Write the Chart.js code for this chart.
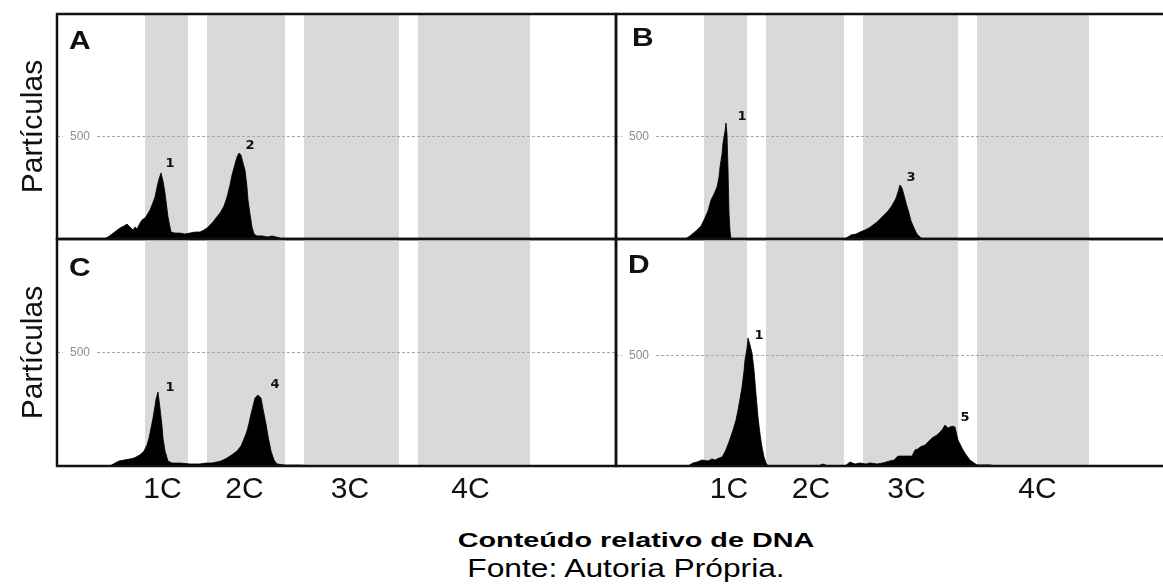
<!DOCTYPE html>
<html><head><meta charset="utf-8">
<script src="https://cdn.jsdelivr.net/npm/chart.js@4/dist/chart.umd.min.js"></script>
<style>
html,body{margin:0;padding:0;background:#fff;}
#wrap{position:relative;width:1163px;height:585px;overflow:hidden;background:#fff;font-family:"Liberation Sans",Arial,sans-serif;}
canvas{position:absolute;}
.cap{position:absolute;white-space:nowrap;line-height:1;color:#000;transform-origin:50% 50%;}
</style></head><body>
<div id="wrap">
<canvas id="cA" width="620" height="245" style="left:0;top:0;width:620px;height:245px"></canvas>
<canvas id="cB" width="553" height="245" style="left:610px;top:0;width:553px;height:245px"></canvas>
<canvas id="cC" width="620" height="285" style="left:0;top:235px;width:620px;height:285px"></canvas>
<canvas id="cD" width="553" height="285" style="left:610px;top:235px;width:553px;height:285px"></canvas>
<div class="cap" id="xt" style="left:636px;top:529px;font-size:21px;font-weight:bold;transform:translateX(-50%) scaleX(1.37);">Conteúdo relativo de DNA</div>
<div class="cap" id="src" style="left:626px;top:555px;font-size:26px;transform:translateX(-50%) scaleX(1.22);">Fonte: Autoria Própria.</div>
</div>
<script>
// ---- data (x = relative DNA content channel, y = particle count) ----
const bands = [[88,131],[150,228],[247,342],[361,473]];
const gridValues = [500];
const tickLabels = ['1C','2C','3C','4C'];
const tickPosLeft = [105.5,187.5,293,413.5];
const tickPosRight = [113,195,290.5,421.5];

const channelsA = [47,51,55,59,63,67,70,73,76,78,80,83,85,88,90,93,95,98,100,102,104,106,108,110,111,113,114,118,123,128,133,138,143,147,150,153,156,159,163,167,170,173,175,178,180,182,184,186,188,190,191,193,195,197,200,205,211,215,219,223,224];
const countsA   = [0,10,24,39,54,64,73,59,44,59,49,78,93,103,117,142,166,205,254,293,323,284,225,147,108,59,34,29,29,24,29,34,34,44,54,68,83,103,127,161,205,264,313,367,401,420,411,372,337,254,191,122,59,24,15,15,10,15,10,5,0];

const channelsB = [69,74,81,85,88,92,95,98,101,103,104,106,107,109,110,111,112,113,114,115,228,232,235,240,244,249,253,257,261,265,268,272,275,278,280,282,284,286,288,290,293,295,298,301,305,307];
const countsB   = [0,15,44,64,93,137,191,220,254,303,352,416,469,528,567,513,342,127,39,0,0,10,20,24,34,44,54,68,83,103,117,137,156,181,200,230,264,249,215,176,127,88,54,24,5,0];

const channelsC = [53,58,62,67,73,77,81,84,87,90,92,94,96,98,99,101,103,105,106,108,111,115,123,133,143,149,155,160,164,170,176,180,184,187,190,192,194,196,198,201,204,206,209,211,214,217,220,228,243,259];
const countsC   = [0,13,22,26,31,35,44,53,66,93,123,167,211,264,295,326,255,176,123,66,22,13,13,9,9,13,13,18,22,35,53,66,88,119,154,189,229,264,300,313,300,251,185,132,66,26,9,4,4,0];

const channelsD = [72,77,81,86,92,96,99,103,106,109,111,114,117,120,122,124,126,128,129,131,132,134,136,138,140,142,144,146,148,150,152,202,207,212,229,234,239,244,250,254,261,267,274,278,282,289,296,299,302,304,309,313,316,321,324,326,329,332,336,339,342,345,347,351,354,358,361,369,374,379];
const countsD   = [0,14,18,27,23,32,27,36,41,64,86,122,163,209,254,304,358,431,481,535,581,549,513,436,327,222,145,86,41,14,0,0,9,0,0,18,9,14,9,14,9,14,23,27,45,45,45,73,77,86,95,113,127,141,154,163,186,172,181,177,118,91,73,45,27,14,5,5,5,0];

const panelLetters = ['A','B','C','D'];
const peakTextA = ['1','2'], peakChanA = [104,182];
const peakTextB = ['1','3'], peakChanB = [110,284];
const peakTextC = ['1','4'], peakChanC = [101,201];
const peakTextD = ['1','5'], peakChanD = [132,329];

const yTitle = 'Partículas';

function pts(xs, ys){ return xs.map((x,i)=>({x:x, y:ys[i]})); }

function noPad(s){ s.paddingTop = 0; s.paddingBottom = 0; s.paddingLeft = 0; s.paddingRight = 0; }

function makePanel(id, d){
  const deco = {
    id: 'deco'+id,
    beforeDraw(chart){
      const {ctx, chartArea:a, scales:{x}} = chart;
      ctx.save(); ctx.fillStyle = '#d9d9d9';
      bands.forEach(b=>{
        const x0 = x.getPixelForValue(b[0]), x1 = x.getPixelForValue(b[1]);
        ctx.fillRect(x0, a.top, x1-x0, a.bottom-a.top);
      });
      ctx.restore();
    },
    afterDraw(chart){
      const {ctx, chartArea:a, scales:{x, y}} = chart;
      ctx.save();
      // frame
      ctx.strokeStyle = '#111'; ctx.lineWidth = 2.5; ctx.lineCap = 'square';
      ctx.beginPath();
      ctx.moveTo(a.left, a.top); ctx.lineTo(a.right, a.top);
      ctx.moveTo(a.left, a.top); ctx.lineTo(a.left, a.bottom);
      ctx.moveTo(a.left, a.bottom); ctx.lineTo(a.right, a.bottom);
      if (d.rightBorder){ ctx.moveTo(a.right, a.top); ctx.lineTo(a.right, a.bottom); }
      ctx.stroke();
      // panel letter
      ctx.fillStyle = '#111';
      ctx.font = 'bold 26px "Liberation Sans", Arial, sans-serif';
      ctx.textBaseline = 'alphabetic'; ctx.textAlign = 'left';
      ctx.save();
      ctx.translate(a.left + d.letterPos[0], a.top + d.letterPos[1]);
      ctx.scale(1.15, 1);
      ctx.fillText(d.letter, 0, 0);
      ctx.restore();
      // peak labels
      ctx.font = 'bold 13px "DejaVu Sans", sans-serif';
      ctx.textAlign = 'center'; ctx.textBaseline = 'middle';
      d.peakText.forEach((t,i)=>{
        const ch = d.peakChan[i];
        let best = 0;
        d.xs.forEach((xv,k)=>{ if (Math.abs(xv-ch) <= 3 && d.ys[k] > best) best = d.ys[k]; });
        const px = x.getPixelForValue(ch) + d.peakOff[i][0];
        const py = y.getPixelForValue(best) + d.peakOff[i][1];
        ctx.fillText(t, px, py);
      });
      ctx.restore();
    }
  };
  const xScale = {
    type: 'linear', min: 0, max: d.xmax,
    display: d.tickPos ? true : false,
    grid: {display:false, drawTicks:false}, border: {display:false},
    afterBuildTicks: s => { if (d.tickPos) s.ticks = d.tickPos.map(v=>({value:v})); },
    afterFit: s => { noPad(s); if (d.tickPos) s.height = d.xHeight; },
    ticks: { autoSkip:false, maxRotation:0, minRotation:0, padding:6, color:'#111',
      font:{size:30, family:'"Liberation Sans", Arial, sans-serif'},
      callback: (v,i) => tickLabels[i] }
  };
  const yScale = {
    type: 'linear', min: 0, max: d.ymax,
    afterBuildTicks: s => { s.ticks = gridValues.map(v=>({value:v})); },
    afterFit: s => { noPad(s); s.width = d.yWidth; },
    grid: {color:'#a9a9a9', lineWidth:1, drawTicks:false},
    border: {display:false, dash:[3,2]},
    ticks: { mirror:true, padding:13, color:'#8c8c8c',
      font:{size:12, family:'"Liberation Sans", Arial, sans-serif'},
      showLabelBackdrop:true, backdropColor:'#ffffff',
      backdropPadding:{left:7, right:5, top:7, bottom:7} },
    title: d.showTitle ? { display:true, text:yTitle, color:'#111',
      font:{size:30, family:'"Liberation Sans", Arial, sans-serif'},
      padding:{top:16, bottom:0} } : {display:false}
  };
  new Chart(document.getElementById(id), {
    type: 'line',
    data: { datasets: [{ data: pts(d.xs, d.ys), fill:'origin', backgroundColor:'#000',
      borderColor:'#000', borderWidth:0.8, pointRadius:0, tension:0 }] },
    options: {
      responsive:false, animation:false, devicePixelRatio:1,
      layout:{padding:d.padding},
      plugins:{legend:{display:false}, tooltip:{enabled:false}},
      scales:{x:xScale, y:yScale}
    },
    plugins:[deco]
  });
}

makePanel('cA', {xs:channelsA, ys:countsA, xmax:559, ymax:1100, yWidth:57, showTitle:true,
  padding:{top:14, bottom:6, left:0, right:4}, rightBorder:true, letter:panelLetters[0], letterPos:[12,35],
  peakText:peakTextA, peakChan:peakChanA, peakOff:[[9,-9],[11,-7]]});
makePanel('cB', {xs:channelsB, ys:countsB, xmax:547, ymax:1100, yWidth:6, showTitle:false,
  padding:{top:14, bottom:6, left:0, right:0}, rightBorder:false, letter:panelLetters[1], letterPos:[16,32],
  peakText:peakTextB, peakChan:peakChanB, peakOff:[[16,-6],[11,-7]]});
makePanel('cC', {xs:channelsC, ys:countsC, xmax:559, ymax:1000, yWidth:57, showTitle:true,
  padding:{top:4, bottom:0, left:0, right:4}, rightBorder:true, letter:panelLetters[2], letterPos:[12,37],
  tickPos:tickPosLeft, xHeight:54,
  peakText:peakTextC, peakChan:peakChanC, peakOff:[[12,-4],[17,-10]]});
makePanel('cD', {xs:channelsD, ys:countsD, xmax:547, ymax:1030, yWidth:6, showTitle:false,
  padding:{top:4, bottom:0, left:0, right:0}, rightBorder:false, letter:panelLetters[3], letterPos:[12,34],
  tickPos:tickPosRight, xHeight:54,
  peakText:peakTextD, peakChan:peakChanD, peakOff:[[11,-2],[20,-7]]});
</script>
</body></html>
